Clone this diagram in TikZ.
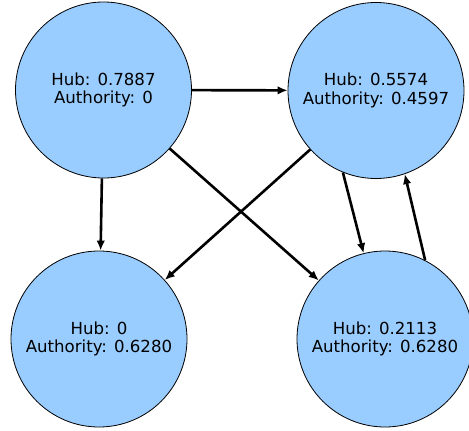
\documentclass[tikz,border=0pt]{standalone}
\usepackage{fontspec}
\setmainfont{DejaVu Sans}
\usetikzlibrary{arrows.meta}
\definecolor{nodeblue}{HTML}{99CCFF}

\begin{document}
\begin{tikzpicture}[x=1pt,y=-1pt]
        \useasboundingbox (0,0) rectangle (469,431);

        \begin{scope}[every node/.style={circle,draw,line width=0.8pt,fill=nodeblue,
            minimum size=176pt,inner sep=0pt,align=center,
            font=\fontsize{16.6}{18.8}\selectfont}]
          \node (1) at (103.5,90)  {Hub: 0.7887\\Authority: 0};
          \node (2) at (376,90.5)  {Hub: 0.5574\\Authority: 0.4597};
          \node (3) at (99,339)    {Hub: 0\\Authority: 0.6280};
          \node (4) at (385,339)   {Hub: 0.2113\\Authority: 0.6280};
        \end{scope}

        \begin{scope}[every edge/.style={draw,line width=2.6pt,-{Latex[length=10pt,width=8.5pt]}}]
          \path (1) edge (2);
          \path (1) edge (3);
          \path (1) edge (4);
          \path (2) edge (3);
          \path (2.248) edge (4.104);
          \path (4.63)  edge (2.289);
        \end{scope}

      \end{tikzpicture}
\end{document}
